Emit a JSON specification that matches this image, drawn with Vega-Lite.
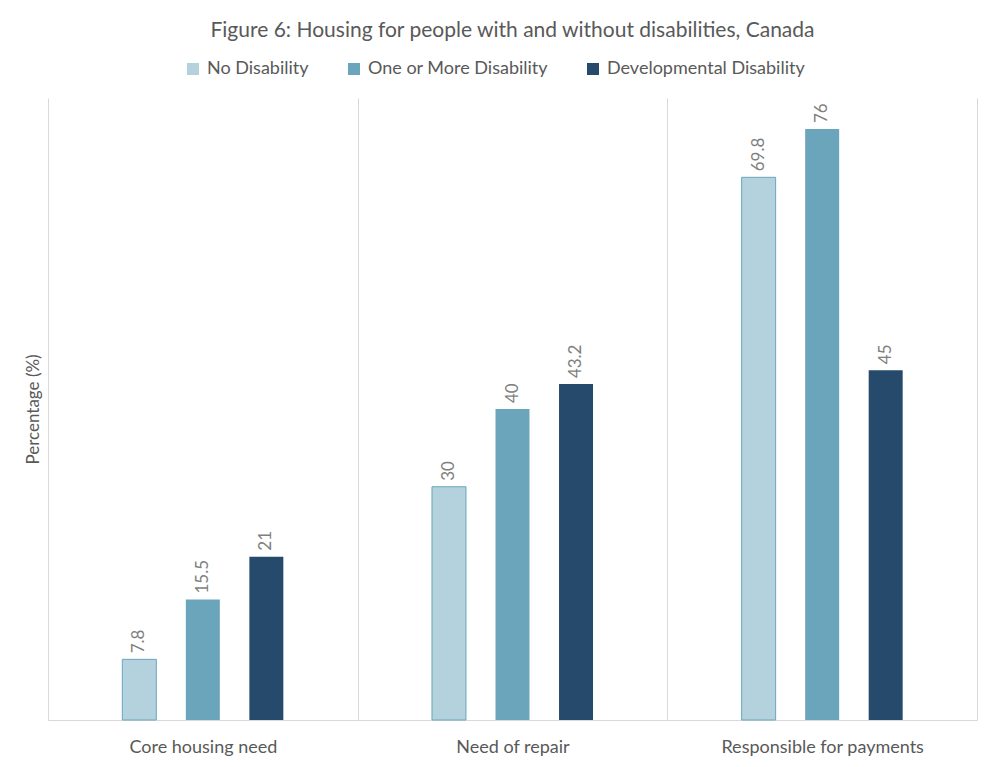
{
  "$schema": "https://vega.github.io/schema/vega-lite/v6.json",
  "width": 929,
  "height": 622,
  "autosize": {"type": "none"},
  "padding": {"left": 48, "top": 98, "right": 14, "bottom": 47},
  "background": "white",
  "title": {
    "text": "Figure 6: Housing for people with and without disabilities, Canada",
    "font": "Lato",
    "fontSize": 21,
    "fontWeight": "normal",
    "color": "#595959",
    "anchor": "middle",
    "offset": 19
  },
  "data": {
    "values": [
      {"category": "Core housing need", "group": "No Disability", "value": 7.8},
      {"category": "Core housing need", "group": "One or More Disability", "value": 15.5},
      {"category": "Core housing need", "group": "Developmental Disability", "value": 21},
      {"category": "Need of repair", "group": "No Disability", "value": 30},
      {"category": "Need of repair", "group": "One or More Disability", "value": 40},
      {"category": "Need of repair", "group": "Developmental Disability", "value": 43.2},
      {"category": "Responsible for payments", "group": "No Disability", "value": 69.8},
      {"category": "Responsible for payments", "group": "One or More Disability", "value": 76},
      {"category": "Responsible for payments", "group": "Developmental Disability", "value": 45}
    ]
  },
  "encoding": {
    "x": {
      "field": "category",
      "type": "nominal",
      "sort": null,
      "scale": {"paddingInner": 0, "paddingOuter": 0},
      "axis": {
        "title": null,
        "labelAngle": 0,
        "labelFont": "Lato",
        "labelFontSize": 18,
        "labelColor": "#595959",
        "labelPadding": 18,
        "labelLimit": 0,
        "ticks": false,
        "domainColor": "#d9d9d9",
        "grid": true,
        "gridColor": "#d9d9d9",
        "tickBand": "extent"
      }
    },
    "xOffset": {
      "field": "group",
      "type": "nominal",
      "scale": {
        "domain": ["_pad1", "No Disability", "One or More Disability", "Developmental Disability", "_pad2"],
        "paddingInner": 0.465,
        "paddingOuter": 0.17
      }
    },
    "y": {
      "field": "value",
      "type": "quantitative",
      "scale": {"domain": [0, 80], "nice": false},
      "axis": {
        "title": "Percentage (%)",
        "titleFont": "Lato",
        "titleFontSize": 17,
        "titleFontWeight": "normal",
        "titleColor": "#595959",
        "titlePadding": 6,
        "labels": false,
        "ticks": false,
        "domain": false,
        "grid": false
      }
    }
  },
  "layer": [
    {
      "mark": {"type": "bar"},
      "encoding": {
        "color": {
          "field": "group",
          "type": "nominal",
          "scale": {
            "domain": ["No Disability", "One or More Disability", "Developmental Disability"],
            "range": ["#b4d2dd", "#6aa5bb", "#264a6b"]
          },
          "legend": {
            "title": null,
            "orient": "none",
            "legendX": 136,
            "legendY": -38,
            "direction": "horizontal",
            "symbolType": "square",
            "symbolSize": 144,
            "symbolStrokeWidth": 0,
            "labelFont": "Lato",
            "labelFontSize": 18,
            "labelColor": "#595959",
            "labelLimit": 0,
            "columnPadding": 36,
            "labelOffset": 5
          }
        },
        "stroke": {
          "condition": {"test": "datum.group === 'No Disability'", "value": "#6aa5bb"},
          "value": null
        }
      }
    },
    {
      "mark": {
        "type": "text",
        "angle": 270,
        "align": "left",
        "baseline": "middle",
        "dx": 6,
        "font": "Lato",
        "fontSize": 17,
        "color": "#7f7f7f"
      },
      "encoding": {
        "text": {"field": "value", "type": "quantitative"}
      }
    }
  ],
  "config": {
    "view": {"stroke": null}
  }
}
